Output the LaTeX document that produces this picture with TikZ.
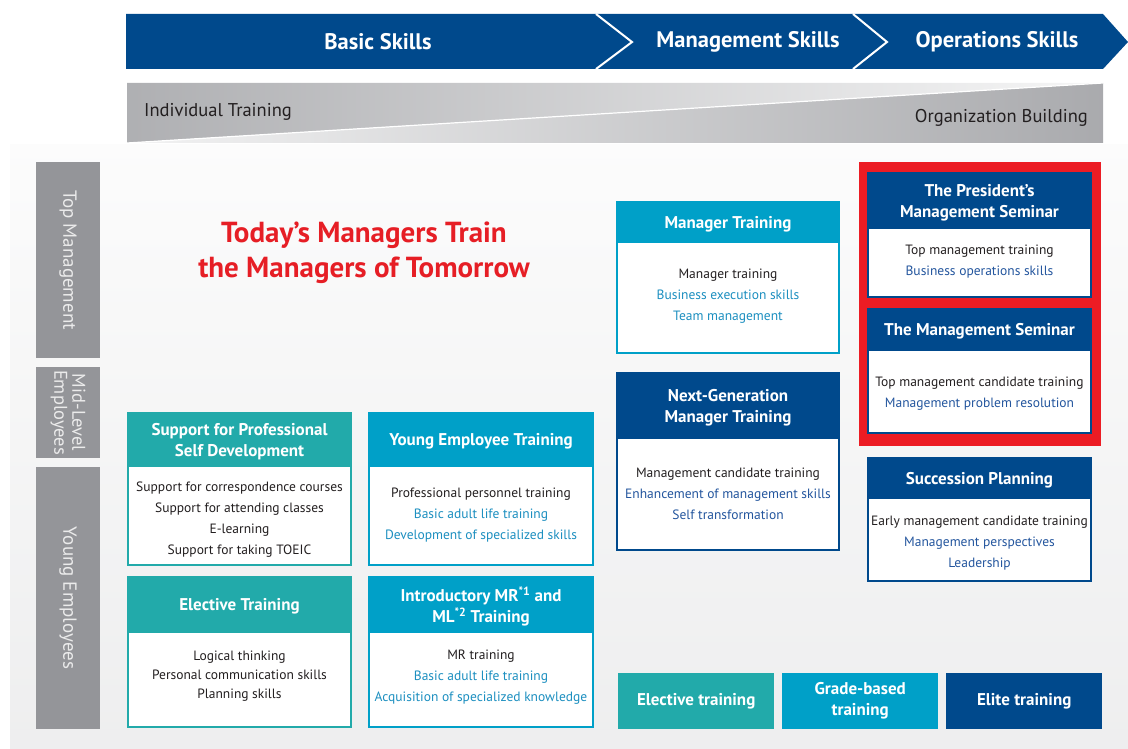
\documentclass[tikz,border=0pt]{standalone}
\usepackage{fontspec}
\setmainfont{PT Sans}
\usetikzlibrary{positioning}

\definecolor{navyT}{RGB}{0,73,140}
\definecolor{cyanT}{RGB}{0,160,200}
\definecolor{tealT}{RGB}{34,170,170}
\definecolor{redT}{RGB}{230,30,37}
\definecolor{frameT}{RGB}{236,28,36}
\definecolor{lvlT}{RGB}{148,149,153}
\definecolor{txtT}{RGB}{35,31,32}
\definecolor{cyanTxt}{RGB}{28,143,192}
\definecolor{navyTxt}{RGB}{36,86,158}

\newcommand{\cy}[1]{{\color{cyanTxt}#1}}
\newcommand{\nv}[1]{{\color{navyTxt}#1}}

\tikzset{
  hdr/.style={fill=#1, draw=#1, line width=1.5pt, text=white, align=center, text depth=0pt,
    font=\fontsize{17}{21}\selectfont\bfseries, inner sep=0pt, outer sep=0pt, anchor=north west},
  bdy/.style={fill=white, draw=#1, line width=1.5pt, text=txtT, align=center,
    font=\fontsize{13.5}{21}\selectfont, inner sep=0pt, outer sep=0pt},
  lvl/.style={fill=lvlT, text=white!92!black, rotate=-90, align=center,
    font=\fontsize{19}{19}\selectfont, inner sep=0pt, minimum height=64pt},
  skill/.style={text=white, font=\fontsize{22.5}{22.5}\selectfont\bfseries},
  key/.style={fill=#1, text=white, align=center, anchor=north west,
    font=\fontsize{17}{21}\selectfont\bfseries, minimum width=156pt, minimum height=56pt, inner sep=0pt}
}

\begin{document}
\begin{tikzpicture}[x=1pt, y=-1pt]
\useasboundingbox (0,0) rectangle (1128,749);

\shade [top color=white!97!lvlT, bottom color=white!84!lvlT] (10,145) rectangle (1128,749);

\fill [navyT] (126,14) -- (1103,14) -- (1128,42) -- (1103,69) -- (126,69) -- cycle;
\draw [white, line width=2pt] (596,14) -- (632,42) -- (596,69);
\draw [white, line width=2pt] (853,14) -- (887,42) -- (853,69);
\node [skill] (basic) at (378,42) {Basic Skills};
\node [skill] (mgmt) at (748,42) {Management Skills};
\node [skill] (oper) at (997,42) {Operations Skills};

\shade [left color=lvlT!75, right color=white!92!lvlT] (127,83) -- (1103,83) -- (127,143) -- cycle;
\shade [left color=white!88!lvlT, right color=lvlT!80] (127,143) -- (1103,83) -- (1103,143) -- cycle;
\draw [white, line width=1.2pt] (127,143) -- (1103,83);
\node [anchor=west, inner sep=0pt, text=txtT, font=\fontsize{18.5}{18.5}\selectfont] (indiv) at (144,112) {Individual Training};
\node [anchor=east, inner sep=0pt, text=txtT, font=\fontsize{18.5}{18.5}\selectfont] (org) at (1088,118) {Organization Building};

\node [lvl, minimum width=196pt] (top) at (68,260) {Top Management};
\node [lvl, minimum width=91pt, font=\fontsize{18.5}{18}\selectfont] (mid) at (68,412.5) {Mid-Level\\Employees};
\node [lvl, minimum width=262pt] (young) at (68,598) {Young Employees};

\node [text=redT, align=center, font=\fontsize{29}{35}\selectfont\bfseries] (motto) at (364,253)
  {Today's Managers Train\\the Managers of Tomorrow};

\node [hdr=tealT, minimum width=223pt, minimum height=53pt] (selfH) at (128,413) {Support for Professional\\Self Development};
\node [bdy=tealT, minimum width=223pt, minimum height=99pt, text height=81pt, below=0pt of selfH] (selfB)
  {Support for correspondence courses\\Support for attending classes\\E-learning\\Support for taking TOEIC};

\node [hdr=cyanT, minimum width=224pt, minimum height=53pt] (yetH) at (369,413) {Young Employee Training};
\node [bdy=cyanT, minimum width=224pt, minimum height=99pt, below=0pt of yetH] (yetB)
  {Professional personnel training\\\cy{Basic adult life training}\\\cy{Development of specialized skills}};

\node [hdr=tealT, minimum width=223pt, minimum height=55pt] (elecH) at (128,577) {Elective Training};
\node [bdy=tealT, minimum width=223pt, minimum height=95pt, text depth=10pt, below=0pt of elecH] (elecB)
  {Logical thinking\\[-2pt]Personal communication skills\\[-2pt]Planning skills};

\node [hdr=cyanT, minimum width=224pt, minimum height=55pt] (introH) at (369,577) {Introductory MR\textsuperscript{*1} and\\ML\textsuperscript{*2} Training};
\node [bdy=cyanT, minimum width=224pt, minimum height=95pt, text depth=8pt, below=0pt of introH] (introB)
  {MR training\\\cy{Basic adult life training}\\\cy{Acquisition of specialized knowledge}};

\node [hdr=cyanT, minimum width=222pt, minimum height=40pt] (mgrH) at (617,202) {Manager Training};
\node [bdy=cyanT, minimum width=222pt, minimum height=111pt, text depth=6pt, below=0pt of mgrH] (mgrB)
  {Manager training\\\cy{Business execution skills}\\\cy{Team management}};

\node [hdr=navyT, minimum width=222pt, minimum height=65pt] (nextH) at (617,373) {Next-Generation\\Manager Training};
\node [bdy=navyT, minimum width=222pt, minimum height=112pt, below=0pt of nextH] (nextB)
  {Management candidate training\\\nv{Enhancement of management skills}\\\nv{Self transformation}};

\fill [frameT] (859,162) rectangle (1101,446);

\node [hdr=navyT, minimum width=223pt, minimum height=55pt] (presH) at (868,173) {The President's\\Management Seminar};
\node [bdy=navyT, minimum width=223pt, minimum height=69pt, text depth=5.5pt, below=0pt of presH] (presB)
  {Top management training\\\nv{Business operations skills}};

\node [hdr=navyT, minimum width=223pt, minimum height=41pt] (semH) at (868,309) {The Management Seminar};
\node [bdy=navyT, minimum width=223pt, minimum height=83pt, text height=34pt, below=0pt of semH] (semB)
  {Top management candidate training\\\nv{Management problem resolution}};

\node [hdr=navyT, minimum width=223pt, minimum height=40pt] (succH) at (868,458) {Succession Planning};
\node [bdy=navyT, minimum width=223pt, minimum height=83pt, text height=58pt, below=0pt of succH] (succB)
  {Early management candidate training\\\nv{Management perspectives}\\\nv{Leadership}};

\node [key=tealT] (keyElec) at (618,673) {Elective training};
\node [key=cyanT] (keyGrade) at (782,673) {Grade-based\\training};
\node [key=navyT] (keyElite) at (946,673) {Elite training};

\end{tikzpicture}
\end{document}
